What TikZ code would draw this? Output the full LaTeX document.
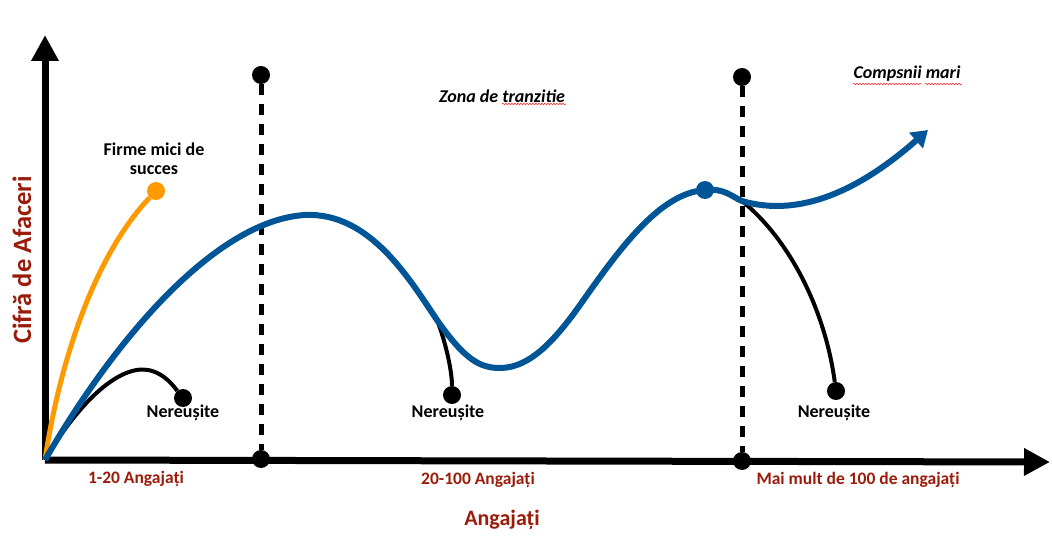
\documentclass[tikz,border=0pt]{standalone}
\usepackage{fontspec}
\setmainfont{Carlito}
\usepackage{tikz}
\usetikzlibrary{arrows.meta,decorations.pathmorphing}
\definecolor{curveblue}{RGB}{0,85,150}
\definecolor{curveorange}{RGB}{255,153,0}
\definecolor{labelred}{RGB}{155,27,10}

\begin{document}
\begin{tikzpicture}[x=1pt, y=-1pt,
		axis/.style={line width=7pt, -{Triangle[length=26pt,width=26pt]}},
		dot/.style={circle, fill=black, inner sep=0pt, minimum size=18pt},
		limit/.style={line width=5pt, dash pattern=on 11pt off 9pt},
		growth/.style={line width=6pt, curveblue},
		fail/.style={line width=4pt, black},
		lbl/.style={font=\fontsize{18}{19.5}\selectfont\bfseries, align=center},
		cat/.style={font=\fontsize{17.5}{20}\selectfont\bfseries, text=labelred},
		zone/.style={font=\fontsize{18}{20}\selectfont\bfseries\itshape},
		squiggle/.style={red!80, line width=0.6pt, decorate, decoration={snake, segment length=3pt, amplitude=0.8pt}}]
			\useasboundingbox (0,0) rectangle (1052,537);
			%\draw[help lines] (0,0) grid[step=50] (1052,537);
			\coordinate (O) at (45,460);
			\coordinate (ytip) at (45,35);
			\coordinate (xtip) at (1050,462);

			\draw[axis] (O) -- (ytip);
			\draw[axis] (O) -- (xtip);

			\node[dot] (top1) at (261,75) {};
			\node[dot] (bot1) at (261,459) {};
			\node[dot] (top2) at (742,77) {};
			\node[dot] (bot2) at (742,461) {};
			\draw[limit] (top1) -- (bot1);
			\draw[limit] (top2) -- (bot2);

			\node[dot, fill=curveorange] (small) at (156,191) {};
			\node[dot] (fail1) at (183,398) {};
			\node[dot] (fail2) at (452,395) {};
			\node[dot] (fail3) at (836,391) {};
			\node[dot, fill=curveblue] (peak) at (705,190) {};
			\coordinate (split2) at (437,320);
			\coordinate (split3) at (742,201);
			\coordinate (big) at (928,130);

			\draw[line width=5pt, curveorange] (O) .. controls (60,360) and (95,255) .. (small);
			\draw[fail] (O) .. controls (80,400) and (120,365) .. (148,370) .. controls (165,373) and (175,388) .. (fail1);
			\draw[fail] (split2) .. controls (445,340) and (452,370) .. (fail2);
			\draw[fail] (split3) .. controls (790,240) and (825,310) .. (fail3);
			\draw[growth, -{Triangle[length=16pt,width=20pt]}] (O) .. controls (120,330) and (220,220) .. (305,215)
				.. controls (370,212) and (410,280) .. (split2)
				.. controls (465,360) and (480,368) .. (500,368)
				.. controls (530,368) and (555,340) .. (580,305)
				.. controls (620,248) and (660,193) .. (peak.center)
				.. controls (725,188) and (732,197) .. (split3)
				.. controls (800,218) and (860,190) .. (big);

			\node[lbl] (smalltxt) at (154,159) {Firme mici de\\succes};
			\node[lbl] (fail1txt) at (183,413) {Nereușite};
			\node[lbl] (fail2txt) at (448,413) {Nereușite};
			\node[lbl] (fail3txt) at (834,413) {Nereușite};
			\node[zone] (transtxt) at (502,96) {Zona de tranzitie};
			\node[zone] (bigtxt) at (907,74) {Compsnii mari};
			\draw[squiggle] (502,104) -- (566,104);
			\draw[squiggle] (853,84) -- (921,84);
			\draw[squiggle] (925,84) -- (962,84);

			\node[cat] (cat1) at (136,479) {1-20 Angajați};
			\node[cat] (cat2) at (478,480) {20-100 Angajați};
			\node[cat] (cat3) at (858,480) {Mai mult de 100 de angajați};
			\node[text=labelred, font=\fontsize{22}{26}\selectfont\bfseries] (xlabel) at (502,520) {Angajați};
			\node[text=labelred, font=\fontsize{26.5}{30}\selectfont\bfseries, rotate=90] (ylabel) at (22,260) {Cifră de Afaceri};
		\end{tikzpicture}
\end{document}
